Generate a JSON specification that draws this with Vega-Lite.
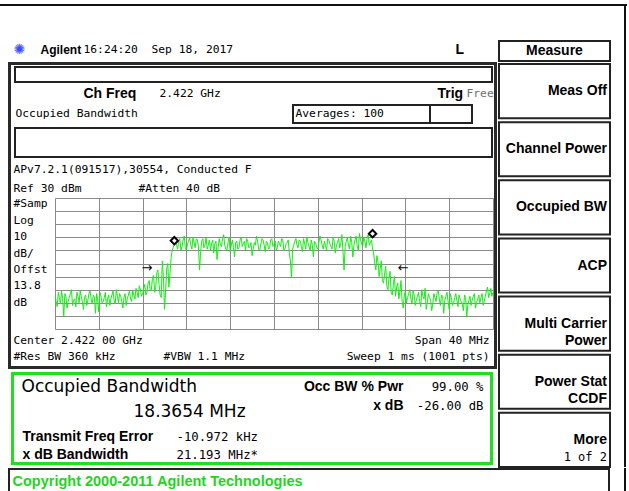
{
  "$schema": "https://vega.github.io/schema/vega-lite/v6.json",
  "padding": {"top": 4, "left": 0, "right": 0, "bottom": 0},
  "autosize": {"type": "pad"},
  "background": "white",
  "data": {"values": []},
  "config": {
    "view": {"stroke": null},
    "text": {"font": "DejaVu Sans Mono", "fontSize": 11.3, "color": "#000000", "align": "left"}
  },
  "datasets": {
    "trace": [
      {"f":2402.0,"p":-44},{"f":2402.2,"p":-53},{"f":2402.4,"p":-46},{"f":2402.6,"p":-41},{"f":2402.8,"p":-60},
      {"f":2403.0,"p":-45},{"f":2403.2,"p":-49},{"f":2403.4,"p":-43},{"f":2403.6,"p":-52},{"f":2403.8,"p":-47},
      {"f":2404.0,"p":-42},{"f":2404.2,"p":-50},{"f":2404.4,"p":-45},{"f":2404.6,"p":-55},{"f":2404.8,"p":-44},
      {"f":2405.0,"p":-48},{"f":2405.2,"p":-41},{"f":2405.4,"p":-51},{"f":2405.6,"p":-46},{"f":2405.8,"p":-43},
      {"f":2406.0,"p":-57},{"f":2406.2,"p":-45},{"f":2406.4,"p":-49},{"f":2406.6,"p":-42},{"f":2406.8,"p":-47},
      {"f":2407.0,"p":-52},{"f":2407.2,"p":-44},{"f":2407.4,"p":-48},{"f":2407.6,"p":-40},{"f":2407.8,"p":-50},
      {"f":2408.0,"p":-45},{"f":2408.2,"p":-54},{"f":2408.4,"p":-43},{"f":2408.6,"p":-47},{"f":2408.8,"p":-41},
      {"f":2409.0,"p":-49},{"f":2409.2,"p":-44},{"f":2409.4,"p":-39},{"f":2409.6,"p":-46},{"f":2409.8,"p":-40},
      {"f":2410.0,"p":-43},{"f":2410.2,"p":-36},{"f":2410.4,"p":-42},{"f":2410.6,"p":-33},{"f":2410.8,"p":-40},
      {"f":2411.0,"p":-29},{"f":2411.2,"p":-38},{"f":2411.4,"p":-25},{"f":2411.6,"p":-44},{"f":2411.8,"p":-18},
      {"f":2412.0,"p":-55},{"f":2412.2,"p":-24},{"f":2412.4,"p":-38},{"f":2412.6,"p":-16},{"f":2412.8,"p":-8},
      {"f":2413.0,"p":-2},{"f":2413.2,"p":-9},{"f":2413.4,"p":-1},{"f":2413.6,"p":-7},{"f":2413.8,"p":1},
      {"f":2414.0,"p":-10},{"f":2414.2,"p":-3},{"f":2414.4,"p":-6},{"f":2414.6,"p":0},{"f":2414.8,"p":-8},
      {"f":2415.0,"p":-2},{"f":2415.2,"p":-25},{"f":2415.4,"p":-3},{"f":2415.6,"p":-8},{"f":2415.8,"p":0},
      {"f":2416.0,"p":-6},{"f":2416.2,"p":-10},{"f":2416.4,"p":-2},{"f":2416.6,"p":-5},{"f":2416.8,"p":-17},
      {"f":2417.0,"p":-1},{"f":2417.2,"p":-7},{"f":2417.4,"p":2},{"f":2417.6,"p":-9},{"f":2417.8,"p":-4},
      {"f":2418.0,"p":-11},{"f":2418.2,"p":-2},{"f":2418.4,"p":-15},{"f":2418.6,"p":-3},{"f":2418.8,"p":-8},
      {"f":2419.0,"p":0},{"f":2419.2,"p":-5},{"f":2419.4,"p":-10},{"f":2419.6,"p":-3},{"f":2419.8,"p":-7},
      {"f":2420.0,"p":-14},{"f":2420.2,"p":-4},{"f":2420.4,"p":1},{"f":2420.6,"p":-9},{"f":2420.8,"p":-5},
      {"f":2421.0,"p":-2},{"f":2421.2,"p":-11},{"f":2421.4,"p":-4},{"f":2421.6,"p":-8},{"f":2421.8,"p":-1},
      {"f":2422.0,"p":-6},{"f":2422.2,"p":-10},{"f":2422.4,"p":-3},{"f":2422.6,"p":-7},{"f":2422.8,"p":-2},
      {"f":2423.0,"p":-9},{"f":2423.2,"p":-4},{"f":2423.4,"p":-12},{"f":2423.6,"p":-31},{"f":2423.8,"p":-6},
      {"f":2424.0,"p":-1},{"f":2424.2,"p":-8},{"f":2424.4,"p":-3},{"f":2424.6,"p":-11},{"f":2424.8,"p":-5},
      {"f":2425.0,"p":0},{"f":2425.2,"p":-7},{"f":2425.4,"p":-2},{"f":2425.6,"p":-15},{"f":2425.8,"p":-4},
      {"f":2426.0,"p":-9},{"f":2426.2,"p":1},{"f":2426.4,"p":-6},{"f":2426.6,"p":-3},{"f":2426.8,"p":-10},
      {"f":2427.0,"p":-2},{"f":2427.2,"p":-7},{"f":2427.4,"p":0},{"f":2427.6,"p":-12},{"f":2427.8,"p":-4},
      {"f":2428.0,"p":-8},{"f":2428.2,"p":2},{"f":2428.4,"p":-25},{"f":2428.6,"p":-3},{"f":2428.8,"p":-6},
      {"f":2429.0,"p":1},{"f":2429.2,"p":-15},{"f":2429.4,"p":-2},{"f":2429.6,"p":-7},{"f":2429.8,"p":3},
      {"f":2430.0,"p":-5},{"f":2430.2,"p":0},{"f":2430.4,"p":-8},{"f":2430.6,"p":2},{"f":2430.8,"p":-4},
      {"f":2431.0,"p":-9},{"f":2431.2,"p":-20},{"f":2431.4,"p":-14},{"f":2431.6,"p":-30},{"f":2431.8,"p":-18},
      {"f":2432.0,"p":-35},{"f":2432.2,"p":-22},{"f":2432.4,"p":-40},{"f":2432.6,"p":-26},{"f":2432.8,"p":-44},
      {"f":2433.0,"p":-30},{"f":2433.2,"p":-38},{"f":2433.4,"p":-47},{"f":2433.6,"p":-33},{"f":2433.8,"p":-54},
      {"f":2434.0,"p":-41},{"f":2434.2,"p":-46},{"f":2434.4,"p":-40},{"f":2434.6,"p":-51},{"f":2434.8,"p":-44},
      {"f":2435.0,"p":-48},{"f":2435.2,"p":-42},{"f":2435.4,"p":-53},{"f":2435.6,"p":-45},{"f":2435.8,"p":-39},
      {"f":2436.0,"p":-50},{"f":2436.2,"p":-46},{"f":2436.4,"p":-56},{"f":2436.6,"p":-43},{"f":2436.8,"p":-49},
      {"f":2437.0,"p":-41},{"f":2437.2,"p":-52},{"f":2437.4,"p":-45},{"f":2437.6,"p":-48},{"f":2437.8,"p":-42},
      {"f":2438.0,"p":-55},{"f":2438.2,"p":-46},{"f":2438.4,"p":-50},{"f":2438.6,"p":-43},{"f":2438.8,"p":-53},
      {"f":2439.0,"p":-47},{"f":2439.2,"p":-51},{"f":2439.4,"p":-44},{"f":2439.6,"p":-61},{"f":2439.8,"p":-48},
      {"f":2440.0,"p":-52},{"f":2440.2,"p":-45},{"f":2440.4,"p":-54},{"f":2440.6,"p":-47},{"f":2440.8,"p":-50},
      {"f":2441.0,"p":-43},{"f":2441.2,"p":-49},{"f":2441.4,"p":-41},{"f":2441.6,"p":-46},{"f":2441.8,"p":-39},
      {"f":2442.0,"p":-42},
      {"f":2402.1,"p":-49},{"f":2402.3,"p":-42},{"f":2402.5,"p":-51},{"f":2402.7,"p":-47},{"f":2402.9,"p":-43},
      {"f":2403.1,"p":-54},{"f":2403.3,"p":-46},{"f":2403.5,"p":-40},{"f":2403.7,"p":-48},{"f":2403.9,"p":-53},
      {"f":2404.1,"p":-45},{"f":2404.3,"p":-41},{"f":2404.5,"p":-49},{"f":2404.7,"p":-46},{"f":2404.9,"p":-52},
      {"f":2405.1,"p":-43},{"f":2405.3,"p":-47},{"f":2405.5,"p":-44},{"f":2405.7,"p":-58},{"f":2405.9,"p":-48},
      {"f":2406.1,"p":-42},{"f":2406.3,"p":-50},{"f":2406.5,"p":-46},{"f":2406.7,"p":-53},{"f":2406.9,"p":-44},
      {"f":2407.1,"p":-47},{"f":2407.3,"p":-41},{"f":2407.5,"p":-51},{"f":2407.7,"p":-45},{"f":2407.9,"p":-43},
      {"f":2408.1,"p":-49},{"f":2408.3,"p":-46},{"f":2408.5,"p":-52},{"f":2408.7,"p":-44},{"f":2408.9,"p":-47},
      {"f":2409.1,"p":-41},{"f":2409.3,"p":-47},{"f":2409.5,"p":-42},{"f":2409.7,"p":-37},{"f":2409.9,"p":-45},
      {"f":2410.1,"p":-39},{"f":2410.3,"p":-44},{"f":2410.5,"p":-35},{"f":2410.7,"p":-41},{"f":2410.9,"p":-31},
      {"f":2411.1,"p":-42},{"f":2411.3,"p":-27},{"f":2411.5,"p":-36},{"f":2411.7,"p":-46},{"f":2411.9,"p":-30},
      {"f":2412.1,"p":-41},{"f":2412.3,"p":-20},{"f":2412.5,"p":-28},{"f":2412.7,"p":-10},{"f":2412.9,"p":-4},
      {"f":2413.1,"p":-6},{"f":2413.3,"p":-3},{"f":2413.5,"p":-10},{"f":2413.7,"p":-2},{"f":2413.9,"p":-8},
      {"f":2414.1,"p":-5},{"f":2414.3,"p":0},{"f":2414.5,"p":-9},{"f":2414.7,"p":-4},{"f":2414.9,"p":-1},
      {"f":2415.1,"p":-7},{"f":2415.3,"p":-11},{"f":2415.5,"p":-1},{"f":2415.7,"p":-6},{"f":2415.9,"p":-9},
      {"f":2416.1,"p":-2},{"f":2416.3,"p":-5},{"f":2416.5,"p":-12},{"f":2416.7,"p":-3},{"f":2416.9,"p":-8},
      {"f":2417.1,"p":-5},{"f":2417.3,"p":-1},{"f":2417.5,"p":-6},{"f":2417.7,"p":-10},{"f":2417.9,"p":0},
      {"f":2418.1,"p":-6},{"f":2418.3,"p":-8},{"f":2418.5,"p":-4},{"f":2418.7,"p":-9},{"f":2418.9,"p":-2},
      {"f":2419.1,"p":-7},{"f":2419.3,"p":-3},{"f":2419.5,"p":-1},{"f":2419.7,"p":-8},{"f":2419.9,"p":-4},
      {"f":2420.1,"p":-9},{"f":2420.3,"p":-6},{"f":2420.5,"p":-3},{"f":2420.7,"p":-10},{"f":2420.9,"p":-1},
      {"f":2421.1,"p":-6},{"f":2421.3,"p":-3},{"f":2421.5,"p":-9},{"f":2421.7,"p":-2},{"f":2421.9,"p":-7},
      {"f":2422.1,"p":-3},{"f":2422.3,"p":-8},{"f":2422.5,"p":-5},{"f":2422.7,"p":-1},{"f":2422.9,"p":-10},
      {"f":2423.1,"p":-5},{"f":2423.3,"p":-2},{"f":2423.5,"p":-18},{"f":2423.7,"p":-9},{"f":2423.9,"p":-3},
      {"f":2424.1,"p":-6},{"f":2424.3,"p":-2},{"f":2424.5,"p":-7},{"f":2424.7,"p":-1},{"f":2424.9,"p":-9},
      {"f":2425.1,"p":-4},{"f":2425.3,"p":-10},{"f":2425.5,"p":-6},{"f":2425.7,"p":-3},{"f":2425.9,"p":-8},
      {"f":2426.1,"p":-4},{"f":2426.3,"p":-2},{"f":2426.5,"p":-9},{"f":2426.7,"p":-6},{"f":2426.9,"p":-1},
      {"f":2427.1,"p":-5},{"f":2427.3,"p":-9},{"f":2427.5,"p":-3},{"f":2427.7,"p":-6},{"f":2427.9,"p":-1},
      {"f":2428.1,"p":-5},{"f":2428.3,"p":-11},{"f":2428.5,"p":-7},{"f":2428.7,"p":0},{"f":2428.9,"p":-9},
      {"f":2429.1,"p":-4},{"f":2429.3,"p":-6},{"f":2429.5,"p":1},{"f":2429.7,"p":-10},{"f":2429.9,"p":-2},
      {"f":2430.1,"p":-7},{"f":2430.3,"p":-3},{"f":2430.5,"p":-1},{"f":2430.7,"p":-6},{"f":2430.9,"p":-2},
      {"f":2431.1,"p":-12},{"f":2431.3,"p":-25},{"f":2431.5,"p":-19},{"f":2431.7,"p":-24},{"f":2431.9,"p":-33},
      {"f":2432.1,"p":-28},{"f":2432.3,"p":-37},{"f":2432.5,"p":-31},{"f":2432.7,"p":-42},{"f":2432.9,"p":-36},
      {"f":2433.1,"p":-45},{"f":2433.3,"p":-35},{"f":2433.5,"p":-41},{"f":2433.7,"p":-49},{"f":2433.9,"p":-44},
      {"f":2434.1,"p":-50},{"f":2434.3,"p":-43},{"f":2434.5,"p":-47},{"f":2434.7,"p":-41},{"f":2434.9,"p":-52},
      {"f":2435.1,"p":-45},{"f":2435.3,"p":-49},{"f":2435.5,"p":-40},{"f":2435.7,"p":-47},{"f":2435.9,"p":-55},
      {"f":2436.1,"p":-43},{"f":2436.3,"p":-48},{"f":2436.5,"p":-51},{"f":2436.7,"p":-46},{"f":2436.9,"p":-42},
      {"f":2437.1,"p":-47},{"f":2437.3,"p":-44},{"f":2437.5,"p":-58},{"f":2437.7,"p":-45},{"f":2437.9,"p":-49},
      {"f":2438.1,"p":-43},{"f":2438.3,"p":-52},{"f":2438.5,"p":-46},{"f":2438.7,"p":-48},{"f":2438.9,"p":-44},
      {"f":2439.1,"p":-49},{"f":2439.3,"p":-56},{"f":2439.5,"p":-46},{"f":2439.7,"p":-52},{"f":2439.9,"p":-45},
      {"f":2440.1,"p":-48},{"f":2440.3,"p":-43},{"f":2440.5,"p":-50},{"f":2440.7,"p":-44},{"f":2440.9,"p":-46},
      {"f":2441.1,"p":-52},{"f":2441.3,"p":-45},{"f":2441.5,"p":-38},{"f":2441.7,"p":-43},{"f":2441.9,"p":-45}
    ],
    "markers": [{"f": 2412.9, "p": -2.6}, {"f": 2431.0, "p": 2.8}],
    "arrows": [{"f": 2410.4, "p": -23.5, "t": "→"}, {"f": 2433.8, "p": -23.5, "t": "←"}],
    "keys": [
      {"key": "Meas Off", "main": "Meas Off", "sub": ""},
      {"key": "Channel Power", "main": "Channel Power", "sub": ""},
      {"key": "Occupied BW", "main": "Occupied BW", "sub": ""},
      {"key": "ACP", "main": "ACP", "sub": ""},
      {"key": "Multi Carrier Power", "main": "Multi Carrier\nPower", "sub": ""},
      {"key": "Power Stat CCDF", "main": "Power Stat\nCCDF", "sub": ""},
      {"key": "More", "main": "More\n", "sub": "\n1 of 2"}
    ],
    "labels": [
      {"k": 1, "t": "#Samp"}, {"k": 2, "t": "Log"}, {"k": 3, "t": "10"}, {"k": 4, "t": "dB/"},
      {"k": 5, "t": "Offst"}, {"k": 6, "t": "13.8"}, {"k": 7, "t": "dB"}
    ]
  },
  "spacing": 0,
  "vconcat": [
    {"width": 627, "height": 2, "mark": "text", "encoding": {}, "view": {"fill": "#111111"}},
    {
      "spacing": 0,
      "hconcat": [
        {"width": 8, "height": 2, "mark": "text", "encoding": {}},
        {
          "spacing": 0,
          "vconcat": [
            {"width": 489, "height": 36, "mark": "text", "encoding": {}},
            {
              "spacing": 0, "bounds": "flush",
              "hconcat": [
                {"width": 5, "height": 16, "mark": "text", "encoding": {}},
                {"width": 1, "height": 16, "data": {"values": [{"t": "✺"}]}, "mark": {"type": "text", "font": "DejaVu Sans", "fontSize": 14, "color": "#3a4cff"}, "encoding": {"text": {"field": "t"}}},
                {"width": 26, "height": 16, "mark": "text", "encoding": {}},
                {"width": 1, "height": 16, "data": {"values": [{"t": "Agilent"}]}, "mark": {"type": "text", "font": "Liberation Sans", "fontSize": 12, "fontWeight": "bold"}, "encoding": {"text": {"field": "t"}}},
                {"width": 42, "height": 16, "mark": "text", "encoding": {}},
                {"width": 1, "height": 16, "data": {"values": [{"t": "16:24:20\u00a0\u00a0Sep 18, 2017"}]}, "mark": {"type": "text"}, "encoding": {"text": {"field": "t"}}},
                {"width": 371, "height": 16, "mark": "text", "encoding": {}},
                {"width": 1, "height": 16, "data": {"values": [{"t": "L"}]}, "mark": {"type": "text", "font": "Liberation Sans", "fontSize": 14, "fontWeight": "bold"}, "encoding": {"text": {"field": "t"}}}
              ]
            },
            {"width": 489, "height": 4, "mark": "text", "encoding": {}},
            {
              "spacing": 0,
              "hconcat": [
                {"width": 3, "height": 307, "mark": "text", "encoding": {}, "view": {"fill": "#2a2a2a"}},
                {
                  "spacing": 0,
                  "vconcat": [
                    {"width": 483, "height": 3, "mark": "text", "encoding": {}, "view": {"fill": "#2a2a2a"}},
                    {"width": 483, "height": 1, "mark": "text", "encoding": {}},
                    {
                      "spacing": 0, "bounds": "flush",
                      "hconcat": [
                        {"width": 4, "height": 15, "mark": "text", "encoding": {}},
                        {"width": 477, "height": 15, "mark": "text", "encoding": {}, "view": {"stroke": "#222222", "strokeWidth": 2}}
                      ]
                    },
                    {
                      "spacing": 0, "bounds": "flush",
                      "hconcat": [
                        {"width": 72, "height": 21, "mark": "text", "encoding": {}},
                        {"width": 1, "height": 21, "data": {"values": [{"t": "Ch Freq"}]}, "mark": {"type": "text", "font": "Liberation Sans", "fontSize": 14, "fontWeight": "bold"}, "encoding": {"text": {"field": "t"}}},
                        {"width": 75, "height": 21, "mark": "text", "encoding": {}},
                        {"width": 1, "height": 21, "data": {"values": [{"t": "2.422 GHz"}]}, "mark": {"type": "text"}, "encoding": {"text": {"field": "t"}}},
                        {"width": 277, "height": 21, "mark": "text", "encoding": {}},
                        {"width": 1, "height": 21, "data": {"values": [{"t": "Trig"}]}, "mark": {"type": "text", "font": "Liberation Sans", "fontSize": 14, "fontWeight": "bold"}, "encoding": {"text": {"field": "t"}}},
                        {"width": 28, "height": 21, "mark": "text", "encoding": {}},
                        {"width": 1, "height": 21, "data": {"values": [{"t": "Free"}]}, "mark": {"type": "text", "color": "#6e6e6e"}, "encoding": {"text": {"field": "t"}}}
                      ]
                    },
                    {
                      "spacing": 0, "bounds": "flush",
                      "hconcat": [
                        {"width": 4, "height": 18, "mark": "text", "encoding": {}},
                        {"width": 1, "height": 18, "data": {"values": [{"t": "Occupied Bandwidth"}]}, "mark": {"type": "text"}, "encoding": {"text": {"field": "t"}}},
                        {"width": 277, "height": 18, "mark": "text", "encoding": {}},
                        {"width": 137, "height": 18, "view": {"stroke": "#222222", "strokeWidth": 2}, "data": {"values": [{"t": "Averages: 100"}]}, "mark": {"type": "text", "align": "left", "dx": -66}, "encoding": {"text": {"field": "t"}}},
                        {"width": 42, "height": 18, "view": {"stroke": "#222222", "strokeWidth": 2}, "mark": "text", "encoding": {}}
                      ]
                    },
                    {"width": 483, "height": 3, "mark": "text", "encoding": {}},
                    {
                      "spacing": 0, "bounds": "flush",
                      "hconcat": [
                        {"width": 4, "height": 29, "mark": "text", "encoding": {}},
                        {"width": 477, "height": 29, "mark": "text", "encoding": {}, "view": {"stroke": "#222222", "strokeWidth": 2}}
                      ]
                    },
                    {
                      "spacing": 0, "bounds": "flush",
                      "hconcat": [
                        {"width": 2, "height": 24, "mark": "text", "encoding": {}},
                        {"width": 1, "height": 24, "data": {"values": [{"t": "APv7.2.1(091517),30554, Conducted F"}]}, "mark": {"type": "text"}, "encoding": {"text": {"field": "t"}}}
                      ]
                    },
                    {
                      "spacing": 0, "bounds": "flush",
                      "hconcat": [
                        {"width": 2, "height": 14, "mark": "text", "encoding": {}},
                        {"width": 1, "height": 14, "data": {"values": [{"t": "Ref 30 dBm"}]}, "mark": {"type": "text"}, "encoding": {"text": {"field": "t"}}},
                        {"width": 124, "height": 14, "mark": "text", "encoding": {}},
                        {"width": 1, "height": 14, "data": {"values": [{"t": "#Atten 40 dB"}]}, "mark": {"type": "text"}, "encoding": {"text": {"field": "t"}}}
                      ]
                    },
                    {"width": 483, "height": 2, "mark": "text", "encoding": {}},
                    {
                      "spacing": 0, "bounds": "flush",
                      "hconcat": [
                        {"width": 2, "height": 111, "mark": "text", "encoding": {}},
                        {
                          "width": 1, "height": 111,
                          "data": {"name": "labels"},
                          "mark": {"type": "text"},
                          "encoding": {
                            "y": {"field": "k", "type": "ordinal", "scale": {"type": "point", "padding": 0.364}, "axis": null},
                            "text": {"field": "t"}
                          }
                        },
                        {"width": 41, "height": 111, "mark": "text", "encoding": {}},
                        {
                          "width": 438, "height": 131,
                          "encoding": {
                            "x": {"field": "f", "type": "quantitative",
                                  "scale": {"domain": [2402, 2442], "nice": false, "zero": false},
                                  "axis": {"values": [2402, 2406, 2410, 2414, 2418, 2422, 2426, 2430, 2434, 2438, 2442], "grid": true, "labels": false, "ticks": false, "domain": false, "title": null, "gridColor": "#8a8a8a", "gridWidth": 1, "gridOpacity": 1}},
                            "y": {"field": "p", "type": "quantitative",
                                  "scale": {"domain": [-70, 30], "nice": false, "zero": false},
                                  "axis": {"values": [-70, -60, -50, -40, -30, -20, -10, 0, 10, 20, 30], "grid": true, "labels": false, "ticks": false, "domain": false, "title": null, "gridColor": "#8a8a8a", "gridWidth": 1, "gridOpacity": 1}}
                          },
                          "layer": [
                            {"data": {"name": "trace"}, "mark": {"type": "line", "color": "#14ec14", "strokeWidth": 1, "clip": true}},
                            {"data": {"name": "markers"}, "mark": {"type": "point", "shape": "diamond", "filled": true, "fill": "white", "stroke": "black", "strokeWidth": 2, "size": 55, "opacity": 1}},
                            {"data": {"name": "arrows"}, "mark": {"type": "text", "font": "DejaVu Sans", "fontSize": 13, "align": "center"}, "encoding": {"text": {"field": "t"}}}
                          ]
                        }
                      ]
                    },
                    {"width": 483, "height": 4, "mark": "text", "encoding": {}},
                    {
                      "spacing": 0, "bounds": "flush",
                      "hconcat": [
                        {"width": 2, "height": 16, "mark": "text", "encoding": {}},
                        {"width": 1, "height": 16, "data": {"values": [{"t": "Center 2.422 00 GHz"}]}, "mark": {"type": "text"}, "encoding": {"text": {"field": "t"}}},
                        {"width": 475, "height": 16, "mark": "text", "encoding": {}},
                        {"width": 1, "height": 16, "data": {"values": [{"t": "Span 40 MHz"}]}, "mark": {"type": "text", "align": "right"}, "encoding": {"text": {"field": "t"}}}
                      ]
                    },
                    {
                      "spacing": 0, "bounds": "flush",
                      "hconcat": [
                        {"width": 2, "height": 16, "mark": "text", "encoding": {}},
                        {"width": 1, "height": 16, "data": {"values": [{"t": "#Res BW 360 kHz"}]}, "mark": {"type": "text"}, "encoding": {"text": {"field": "t"}}},
                        {"width": 149, "height": 16, "mark": "text", "encoding": {}},
                        {"width": 1, "height": 16, "data": {"values": [{"t": "#VBW 1.1 MHz"}]}, "mark": {"type": "text"}, "encoding": {"text": {"field": "t"}}},
                        {"width": 325, "height": 16, "mark": "text", "encoding": {}},
                        {"width": 1, "height": 16, "data": {"values": [{"t": "Sweep 1 ms (1001 pts)"}]}, "mark": {"type": "text", "align": "right"}, "encoding": {"text": {"field": "t"}}}
                      ]
                    },
                    {"width": 483, "height": 1, "mark": "text", "encoding": {}},
                    {"width": 483, "height": 3, "mark": "text", "encoding": {}, "view": {"fill": "#2a2a2a"}}
                  ]
                },
                {"width": 3, "height": 307, "mark": "text", "encoding": {}, "view": {"fill": "#2a2a2a"}}
              ]
            },
            {"width": 489, "height": 3, "mark": "text", "encoding": {}},
            {
              "spacing": 0,
              "hconcat": [
                {"width": 3, "height": 93, "mark": "text", "encoding": {}},
                {"width": 3, "height": 93, "mark": "text", "encoding": {}, "view": {"fill": "#22dd22"}},
                {
                  "spacing": 0,
                  "vconcat": [
                    {"width": 476, "height": 3, "mark": "text", "encoding": {}, "view": {"fill": "#22dd22"}},
                    {
                      "spacing": 0, "bounds": "flush",
                      "hconcat": [
                        {"width": 7, "height": 24, "mark": "text", "encoding": {}},
                        {"width": 1, "height": 24, "data": {"values": [{"t": "Occupied Bandwidth"}]}, "mark": {"type": "text", "font": "DejaVu Sans", "fontSize": 17}, "encoding": {"text": {"field": "t"}}},
                        {"width": 381, "height": 24, "mark": "text", "encoding": {}},
                        {"width": 1, "height": 24, "data": {"values": [{"t": "Occ BW % Pwr"}]}, "mark": {"type": "text", "font": "Liberation Sans", "fontSize": 14, "fontWeight": "bold", "align": "right"}, "encoding": {"text": {"field": "t"}}},
                        {"width": 79, "height": 24, "mark": "text", "encoding": {}},
                        {"width": 1, "height": 24, "data": {"values": [{"t": "99.00 %"}]}, "mark": {"type": "text", "fontSize": 12.3, "align": "right"}, "encoding": {"text": {"field": "t"}}}
                      ]
                    },
                    {
                      "spacing": 0, "bounds": "flush",
                      "hconcat": [
                        {"width": 119, "height": 26, "mark": "text", "encoding": {}},
                        {"width": 1, "height": 26, "data": {"values": [{"t": "18.3654 MHz"}]}, "mark": {"type": "text", "font": "DejaVu Sans", "fontSize": 17}, "encoding": {"text": {"field": "t"}}},
                        {"width": 269, "height": 26, "mark": "text", "encoding": {}},
                        {"width": 1, "height": 14, "data": {"values": [{"t": "x dB"}]}, "mark": {"type": "text", "font": "Liberation Sans", "fontSize": 14, "fontWeight": "bold", "align": "right"}, "encoding": {"text": {"field": "t"}}},
                        {"width": 79, "height": 26, "mark": "text", "encoding": {}},
                        {"width": 1, "height": 14, "data": {"values": [{"t": "-26.00 dB"}]}, "mark": {"type": "text", "fontSize": 12.3, "align": "right"}, "encoding": {"text": {"field": "t"}}}
                      ]
                    },
                    {
                      "spacing": 0, "bounds": "flush",
                      "hconcat": [
                        {"width": 8, "height": 23, "mark": "text", "encoding": {}},
                        {"width": 1, "height": 23, "data": {"values": [{"t": "Transmit Freq Error"}]}, "mark": {"type": "text", "font": "Liberation Sans", "fontSize": 14, "fontWeight": "bold"}, "encoding": {"text": {"field": "t"}}},
                        {"width": 153, "height": 23, "mark": "text", "encoding": {}},
                        {"width": 1, "height": 23, "data": {"values": [{"t": "-10.972 kHz"}]}, "mark": {"type": "text", "fontSize": 12.3}, "encoding": {"text": {"field": "t"}}}
                      ]
                    },
                    {
                      "spacing": 0, "bounds": "flush",
                      "hconcat": [
                        {"width": 8, "height": 14, "mark": "text", "encoding": {}},
                        {"width": 1, "height": 14, "data": {"values": [{"t": "x dB Bandwidth"}]}, "mark": {"type": "text", "font": "Liberation Sans", "fontSize": 14, "fontWeight": "bold"}, "encoding": {"text": {"field": "t"}}},
                        {"width": 153, "height": 14, "mark": "text", "encoding": {}},
                        {"width": 1, "height": 14, "data": {"values": [{"t": "21.193 MHz*"}]}, "mark": {"type": "text", "fontSize": 12.3}, "encoding": {"text": {"field": "t"}}}
                      ]
                    },
                    {"width": 476, "height": 3, "mark": "text", "encoding": {}, "view": {"fill": "#22dd22"}}
                  ]
                },
                {"width": 3, "height": 93, "mark": "text", "encoding": {}, "view": {"fill": "#22dd22"}}
              ]
            }
          ]
        },
        {"width": 1, "height": 2, "mark": "text", "encoding": {}},
        {
          "spacing": 0,
          "bounds": "flush",
          "vconcat": [
            {"width": 111, "height": 35, "mark": "text", "encoding": {}},
            {"width": 111, "height": 20, "view": {"stroke": "#222222", "strokeWidth": 2}, "data": {"values": [{"t": "Measure"}]}, "mark": {"type": "text", "font": "Liberation Sans", "fontSize": 14, "fontWeight": "bold", "align": "center"}, "encoding": {"text": {"field": "t"}}},
            {"width": 111, "height": 3, "mark": "text", "encoding": {}},
            {
              "width": 111, "height": 403,
              "data": {"name": "keys"},
              "encoding": {
                "y": {"field": "key", "type": "nominal", "sort": null, "scale": {"paddingInner": 0.069, "paddingOuter": 0}, "axis": null}
              },
              "layer": [
                {"mark": {"type": "rect", "fill": "white", "stroke": "#222222", "strokeWidth": 2}},
                {"mark": {"type": "text", "font": "Liberation Sans", "fontSize": 14, "fontWeight": "bold", "align": "right", "dx": -3, "lineBreak": "\n", "lineHeight": 17}, "encoding": {"x": {"value": "width"}, "text": {"field": "main"}}},
                {"mark": {"type": "text", "font": "DejaVu Sans Mono", "fontSize": 12, "align": "right", "dx": -3, "lineBreak": "\n", "lineHeight": 17}, "encoding": {"x": {"value": "width"}, "text": {"field": "sub"}}}
              ]
            }
          ]
        },
        {"width": 13, "height": 2, "mark": "text", "encoding": {}},
        {"width": 2, "height": 461, "mark": "text", "encoding": {}, "view": {"fill": "#111111"}}
      ]
    },
    {
      "spacing": 0,
      "hconcat": [
        {"width": 8, "height": 26, "mark": "text", "encoding": {}},
        {"width": 2, "height": 26, "mark": "text", "encoding": {}, "view": {"fill": "#222222"}},
        {
          "spacing": 0,
          "vconcat": [
            {"width": 598, "height": 2, "mark": "text", "encoding": {}, "view": {"fill": "#222222"}},
            {
              "spacing": 0, "bounds": "flush",
              "hconcat": [
                {"width": 2, "height": 24, "mark": "text", "encoding": {}},
                {"width": 1, "height": 24, "data": {"values": [{"t": "Copyright 2000-2011 Agilent Technologies"}]}, "mark": {"type": "text", "font": "Liberation Sans", "fontSize": 14.5, "fontWeight": "bold", "color": "#1fd41f"}, "encoding": {"text": {"field": "t"}}}
              ]
            }
          ]
        },
        {"width": 2, "height": 26, "mark": "text", "encoding": {}, "view": {"fill": "#222222"}},
        {"width": 14, "height": 26, "mark": "text", "encoding": {}},
        {"width": 2, "height": 26, "mark": "text", "encoding": {}, "view": {"fill": "#111111"}}
      ]
    }
  ]
}
